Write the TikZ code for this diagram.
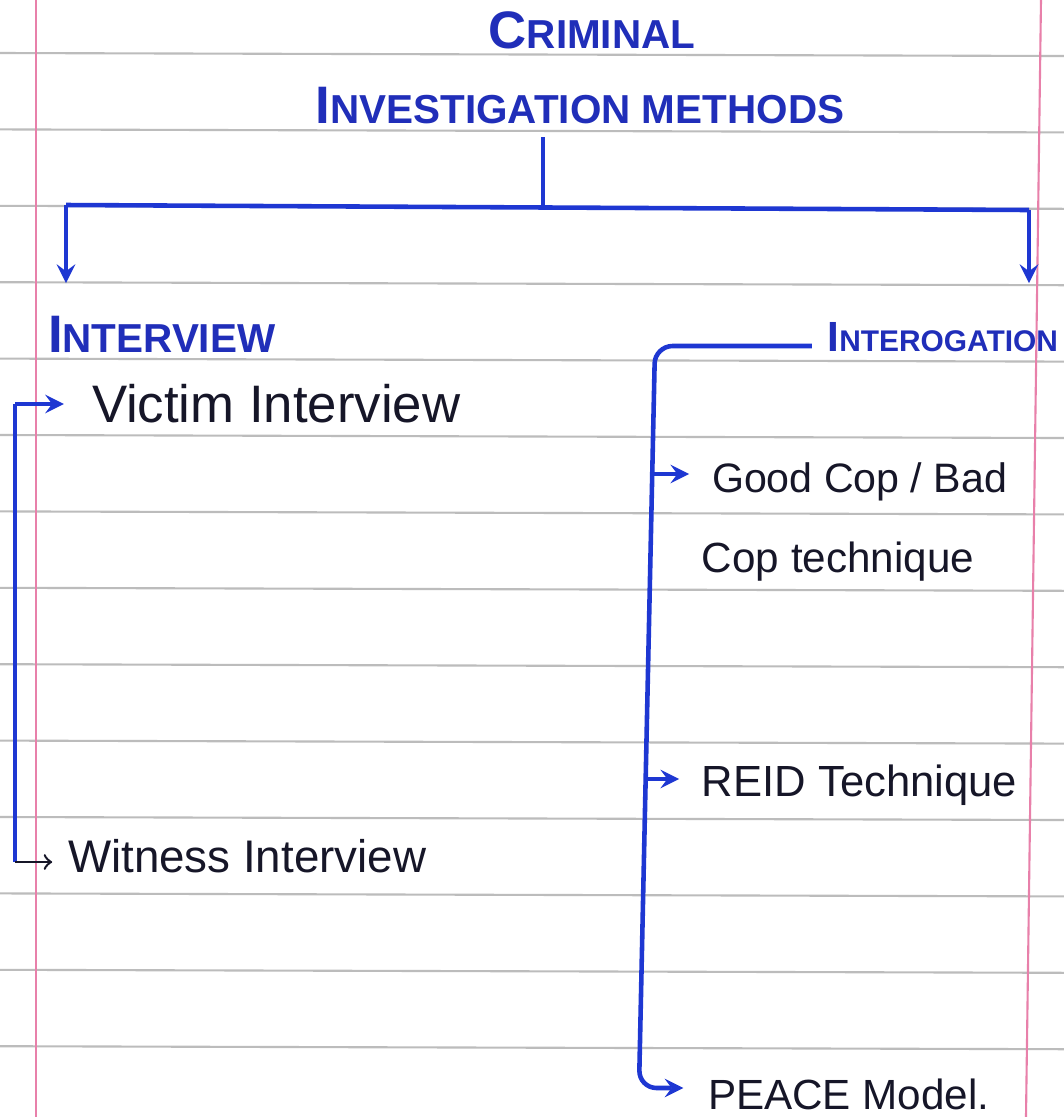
\documentclass[tikz,border=0pt]{standalone}
\usepackage{fontspec}
\setmainfont{Liberation Sans}
\usepackage{tikz}
\usetikzlibrary{arrows, positioning, calc}

\definecolor{penblue}{RGB}{30,55,210}
\definecolor{capblue}{RGB}{32,46,185}
\definecolor{penink}{RGB}{22,22,40}
\definecolor{rulegray}{RGB}{188,188,188}
\definecolor{marginpink}{RGB}{232,128,170}

% first letter tall, the rest as small capitals
\newcommand{\capword}[4]{{\fontsize{#1}{#1}\selectfont #3}{\fontsize{#2}{#2}\selectfont #4}}

\begin{document}
\begin{tikzpicture}[x=0.01cm, y=-0.01cm,
        every node/.style={inner sep=0pt, outer sep=0pt},
        heading/.style={text=capblue, font=\bfseries},
        inktext/.style={text=penink, anchor=west, font=\fontsize{13}{15}\selectfont},
        penline/.style={draw=penblue, line width=1.3pt},
        penarrow/.style={penline, -stealth},
        inkarrow/.style={draw=penink, line width=0.7pt, ->},
        ruling/.style={draw=rulegray, line width=0.6pt},
        marginline/.style={draw=marginpink, line width=0.6pt}
    ]
        % Notebook page
        \fill[white] (0,0) rectangle (1064,1117);
        \useasboundingbox (0,0) rectangle (1064,1117);
        \foreach \k in {0,...,13}
            \draw[ruling] (0,{53+76.4*\k}) -- (1064,{56+76.4*\k});
        \draw[marginline] (36,0) -- (36,1117);
        \draw[marginline] (1041,0) -- (1026,1117);

        % Headings
        \node[heading] (crim) at (592,30) {\capword{15}{11.5}{C}{RIMINAL}};
        \node[heading] (methods) at (580,106) {\capword{15}{11.5}{I}{NVESTIGATION METHODS}};
        \node[heading, anchor=west] (interview) at (48,334) {\capword{15}{11.5}{I}{NTERVIEW}};
        \node[heading, anchor=east] (interog) at (1058,337) {\capword{12}{8.5}{I}{NTEROGATION}};

        % Items
        \node[inktext, font=\fontsize{15}{17}\selectfont] (victim) at (92,404) {Victim Interview};
        \node[inktext] (witness) at (68,856) {Witness Interview};
        \node[inktext, font=\fontsize{11.7}{14}\selectfont] (goodcop) at (712,482) {Good Cop / Bad};
        \node[inktext, font=\fontsize{12}{14}\selectfont] (copteq) at (702,562) {Cop technique};
        \node[inktext, font=\fontsize{12.4}{14}\selectfont] (reid) at (702,785) {REID Technique};
        \node[inktext, font=\fontsize{12}{14}\selectfont] (peace) at (708,1094) {PEACE Model.};

        % Split from the title
        \coordinate (stem) at (543,137);
        \coordinate (hub) at (543,208);
        \coordinate (lcorner) at (66,205);
        \coordinate (rcorner) at (1029,210);
        \coordinate (ltip) at (66,283);
        \coordinate (rtip) at (1029,283);
        \draw[penline] (stem) -- (hub);
        \draw[penline] (lcorner) -- (rcorner);
        \draw[penarrow] (lcorner) -- (ltip);
        \draw[penarrow] (rcorner) -- (rtip);

        % Interview branch
        \coordinate (ivtop) at (15,404);
        \coordinate (ivbot) at (15,862);
        \draw[penline] (ivbot) -- (ivtop);
        \draw[penarrow, shorten >=8pt] (ivtop) -- (victim.west);
        \draw[inkarrow, shorten >=4.5pt] (ivbot) -- (ivbot -| witness.west);

        % Interrogation branch
        \coordinate (rtop) at (655,346);
        \coordinate (rbot) at (639,1088);
        \coordinate (gtap) at (652,474);
        \coordinate (rtap) at (646,779);
        \draw[penarrow, rounded corners=5pt, shorten <=4.5pt, shorten >=7pt]
            (interog.west |- rtop) -- (rtop) -- (rbot) -- (rbot -| peace.west);
        \draw[penarrow, shorten >=6.5pt] (gtap) -- (gtap -| goodcop.west);
        \draw[penarrow, shorten >=6.5pt] (rtap) -- (rtap -| reid.west);
    \end{tikzpicture}
\end{document}
